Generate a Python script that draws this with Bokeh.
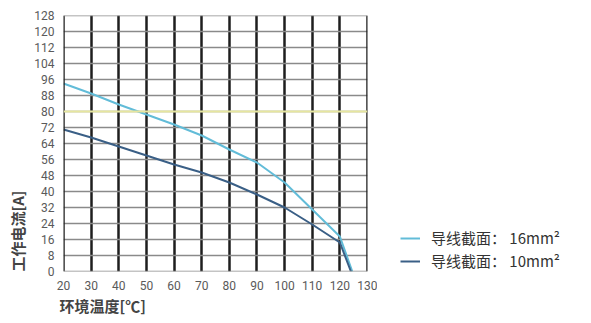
from bokeh.plotting import figure
from bokeh.layouts import row
from bokeh.models import Legend, LegendItem, Span, FixedTicker, Title
from bokeh.embed import file_html
from bokeh.resources import INLINE

temp_16 = [20, 30, 40, 50, 60, 70, 80, 90, 100, 110, 120, 124.5]
cur_16 = [94, 89, 83.5, 78.5, 73.5, 68, 61, 54.5, 44.5, 31, 17.5, 0]
temp_10 = [20, 30, 40, 50, 60, 70, 80, 90, 100, 110, 120, 124]
cur_10 = [71, 67, 62.5, 58, 53.5, 49.5, 44.5, 38.5, 32, 23.5, 14.5, 0]
x_ticks = list(range(20, 131, 10))
y_ticks = list(range(0, 129, 8))
labels = ["导线截面： 16mm²", "导线截面： 10mm²"]
colors = ["#62bcd8", "#3a5f86"]

p = figure(width=377, height=315, output_backend="svg", toolbar_location=None,
           x_range=(x_ticks[0], x_ticks[-1]), y_range=(y_ticks[0], y_ticks[-1]),
           min_border_left=57, min_border_right=10, min_border_top=15, min_border_bottom=43)
p.outline_line_color = None
p.background_fill_color = "white"
p.border_fill_color = "white"

for ax in (p.xaxis, p.yaxis):
    ax.axis_line_color = None
    ax.major_tick_line_color = None
    ax.minor_tick_line_color = None
    ax.major_label_text_color = "#5a5a5a"
    ax.major_label_text_font = "Roboto"
    ax.major_label_text_font_size = "12px"
p.xaxis.ticker = FixedTicker(ticks=x_ticks)
p.yaxis.ticker = FixedTicker(ticks=y_ticks)
p.xaxis.major_label_standoff = 3
p.yaxis.major_label_standoff = 3

p.xgrid.ticker = FixedTicker(ticks=x_ticks)
p.ygrid.ticker = FixedTicker(ticks=y_ticks)
p.xgrid.grid_line_color = "#1e1e1e"
p.xgrid.grid_line_width = 2.5
p.ygrid.grid_line_color = "#8a8a8a"
p.ygrid.grid_line_width = 1.5
for xv in (x_ticks[0], x_ticks[-1]):
    p.add_layout(Span(location=xv, dimension="height", line_color="#1e1e1e", line_width=2.5))
for yv in (y_ticks[0], y_ticks[-1]):
    p.add_layout(Span(location=yv, dimension="width", line_color="#8a8a8a", line_width=1.5))

p.add_layout(Span(location=80, dimension="width", line_color="#e6e6a0", line_width=2))

p.line(temp_16, cur_16, line_color=colors[0], line_width=2)
p.line(temp_10, cur_10, line_color=colors[1], line_width=2)

p.add_layout(Title(text="工作电流[A]", align="left", offset=0, text_font="Noto Sans CJK SC",
                   text_font_style="bold", text_font_size="15px", text_color="#444444",
                   standoff=8), "left")
p.add_layout(Title(text="环境温度[℃]", align="left", offset=-4, text_font="Noto Sans CJK SC",
                   text_font_style="bold", text_font_size="15px", text_color="#444444",
                   standoff=0), "below")

# legend panel
q = figure(width=198, height=315, output_backend="svg", toolbar_location=None,
           x_range=(1000, 1001), y_range=(1000, 1001),
           x_axis_location=None, y_axis_location=None,
           min_border_left=0, min_border_right=0, min_border_top=0, min_border_bottom=0)
q.grid.visible = False
q.outline_line_color = None
items = []
for lab, col, xs, ys in zip(labels, colors, (temp_16, temp_10), (cur_16, cur_10)):
    r = q.line(xs, ys, line_color=col, line_width=2)
    items.append(LegendItem(label=lab, renderers=[r]))
legend = Legend(items=items, location=(23, 0), border_line_color=None,
                background_fill_alpha=0,
                label_text_font="Noto Sans CJK SC", label_text_font_size="15px",
                label_text_color="#333333", glyph_width=20, glyph_height=20,
                label_height=20, spacing=2, padding=0, label_standoff=11)
q.add_layout(legend, "center")

layout = row(p, q)
open("out.html", "w").write(file_html(layout, INLINE))
